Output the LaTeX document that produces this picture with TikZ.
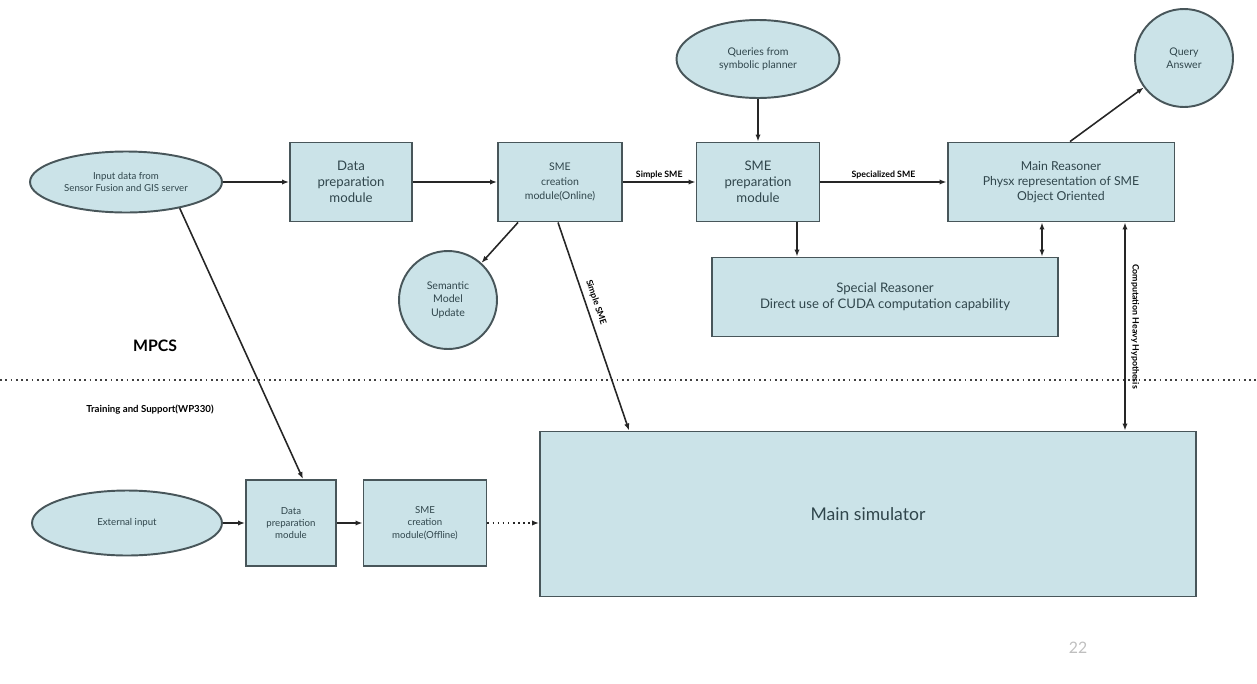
\documentclass[tikz,border=0pt]{standalone}
\usepackage{fontspec}
\setmainfont{Lato}
\usepackage{tikz}
\usetikzlibrary{arrows.meta, positioning, calc, shapes.geometric}

\definecolor{boxfill}{RGB}{203,227,232}
\definecolor{boxline}{RGB}{72,86,90}
\definecolor{boxtext}{RGB}{48,70,76}

\tikzset{
  block/.style={draw=boxline, fill=boxfill, line width=1.1pt, rectangle, align=center, text=boxtext, inner sep=1pt},
  oval/.style={draw=boxline, fill=boxfill, line width=1.1pt, ellipse, align=center, text=boxtext, inner sep=0pt},
  bubble/.style={draw=boxline, fill=boxfill, line width=1.1pt, circle, align=center, text=boxtext, inner sep=0pt, minimum size=1.96cm},
  flow/.style={-{Latex[length=4pt, width=3pt]}, line width=0.9pt, draw=black!85},
  tag/.style={font=\fontsize{5}{6}\selectfont\bfseries, inner sep=1.5pt}
}

\begin{document}
\begin{tikzpicture}[x=0.02cm, y=-0.02cm]
    \useasboundingbox (0,0) rectangle (1257,683);

    % MPCS part
    \node (inputdata) [oval, minimum width=3.84cm, minimum height=1.22cm, font=\fontsize{5.5}{6.5}\selectfont] at (126,182) {Input data from\\Sensor Fusion and GIS server};
    \node (dataprep) [block, minimum width=2.44cm, minimum height=1.58cm, font=\fontsize{7.5}{9}\selectfont] at (351,182) {Data\\preparation\\module};
    \node (smeonline) [block, minimum width=2.48cm, minimum height=1.58cm, font=\fontsize{6}{8}\selectfont] at (560,182) {SME\\creation\\module(Online)};
    \node (smeprep) [block, minimum width=2.46cm, minimum height=1.58cm, font=\fontsize{7.5}{9}\selectfont] at (758,182) {SME\\preparation\\module};
    \node (queries) [oval, minimum width=3.26cm, minimum height=1.56cm, font=\fontsize{6}{7.5}\selectfont] at (758,59) {Queries from\\symbolic planner};
    \node (mainreas) [block, minimum width=4.54cm, minimum height=1.58cm, font=\fontsize{7}{8.5}\selectfont] at (1061,182) {Main Reasoner\\Physx representation of SME\\Object Oriented};
    \node (queryans) [bubble, font=\fontsize{6}{7.5}\selectfont] at (1184,58) {Query\\Answer};
    \node (special) [block, minimum width=6.92cm, minimum height=1.58cm, font=\fontsize{7.5}{9}\selectfont] at (885,297) {Special Reasoner\\Direct use of CUDA computation capability};
    \node (semantic) [bubble, font=\fontsize{6}{7.5}\selectfont] at (448,300) {Semantic\\Model\\Update};
    \node (mpcs) [font=\fontsize{9}{10}\selectfont\bfseries] at (155,346) {MPCS};

    % separation line
    \coordinate (sepleft) at (0,380);
    \coordinate (sepright) at (1257,380);
    \draw[dotted, line width=1pt, black!75] (sepleft) -- (sepright);

    % training and support part
    \node (training) [font=\fontsize{5.5}{6.5}\selectfont\bfseries] at (150,410) {Training and Support(WP330)};
    \node (extinput) [oval, minimum width=3.8cm, minimum height=1.3cm, font=\fontsize{5.5}{6.5}\selectfont] at (127,523) {External input};
    \node (dataprep2) [block, minimum width=1.8cm, minimum height=1.72cm, font=\fontsize{5.5}{7}\selectfont] at (291,523) {Data\\preparation\\module};
    \node (smeoffline) [block, minimum width=2.46cm, minimum height=1.72cm, font=\fontsize{5.5}{7}\selectfont] at (425,523) {SME\\creation\\module(Offline)};
    \node (mainsim) [block, minimum width=13.12cm, minimum height=3.3cm, font=\fontsize{10}{12}\selectfont] at (868,514) {Main simulator};
    \node (pagenum) [text=black!25, font=\fontsize{9}{10}\selectfont] at (1078,648) {22};

    % connectors
    \draw[flow] (inputdata) -- (dataprep);
    \draw[flow] (dataprep) -- (smeonline);
    \draw[flow] (smeonline) -- node[tag, above] {Simple SME} (smeprep);
    \draw[flow] (queries) -- (smeprep);
    \draw[flow] (smeprep) -- node[tag, above] {Specialized SME} (mainreas);
    \draw[flow] ([xshift=0.18cm]mainreas.north) -- (queryans);
    \draw[flow] ([xshift=0.78cm]smeprep.south) -- ([xshift=0.78cm]smeprep.south |- special.north);
    \draw[flow, {Latex[length=4pt, width=3pt]}-{Latex[length=4pt, width=3pt]}] ([xshift=-0.38cm]mainreas.south) -- ([xshift=-0.38cm]mainreas.south |- special.north);
    \draw[flow, {Latex[length=4pt, width=3pt]}-{Latex[length=4pt, width=3pt]}] ([xshift=1.28cm]mainreas.south) -- node[tag, rotate=-90, anchor=south, inner sep=3pt] {Computation Heavy Hypothesis} ([xshift=1.28cm]mainreas.south |- mainsim.north);
    \draw[flow] ([xshift=-0.84cm]smeonline.south) -- (semantic);
    \draw[flow] ([xshift=-0.04cm]smeonline.south) -- node[tag, sloped, above, pos=0.4, inner sep=3pt] {Simple SME} ([xshift=1.8cm]mainsim.north west);
    \draw[flow] (inputdata.-26) -- ([xshift=0.24cm]dataprep2.north);
    \draw[flow] (extinput) -- (dataprep2);
    \draw[flow] (dataprep2) -- (smeoffline);
    \draw[flow, dotted] (smeoffline.east) -- (mainsim.west |- smeoffline.east);
\end{tikzpicture}
\end{document}
